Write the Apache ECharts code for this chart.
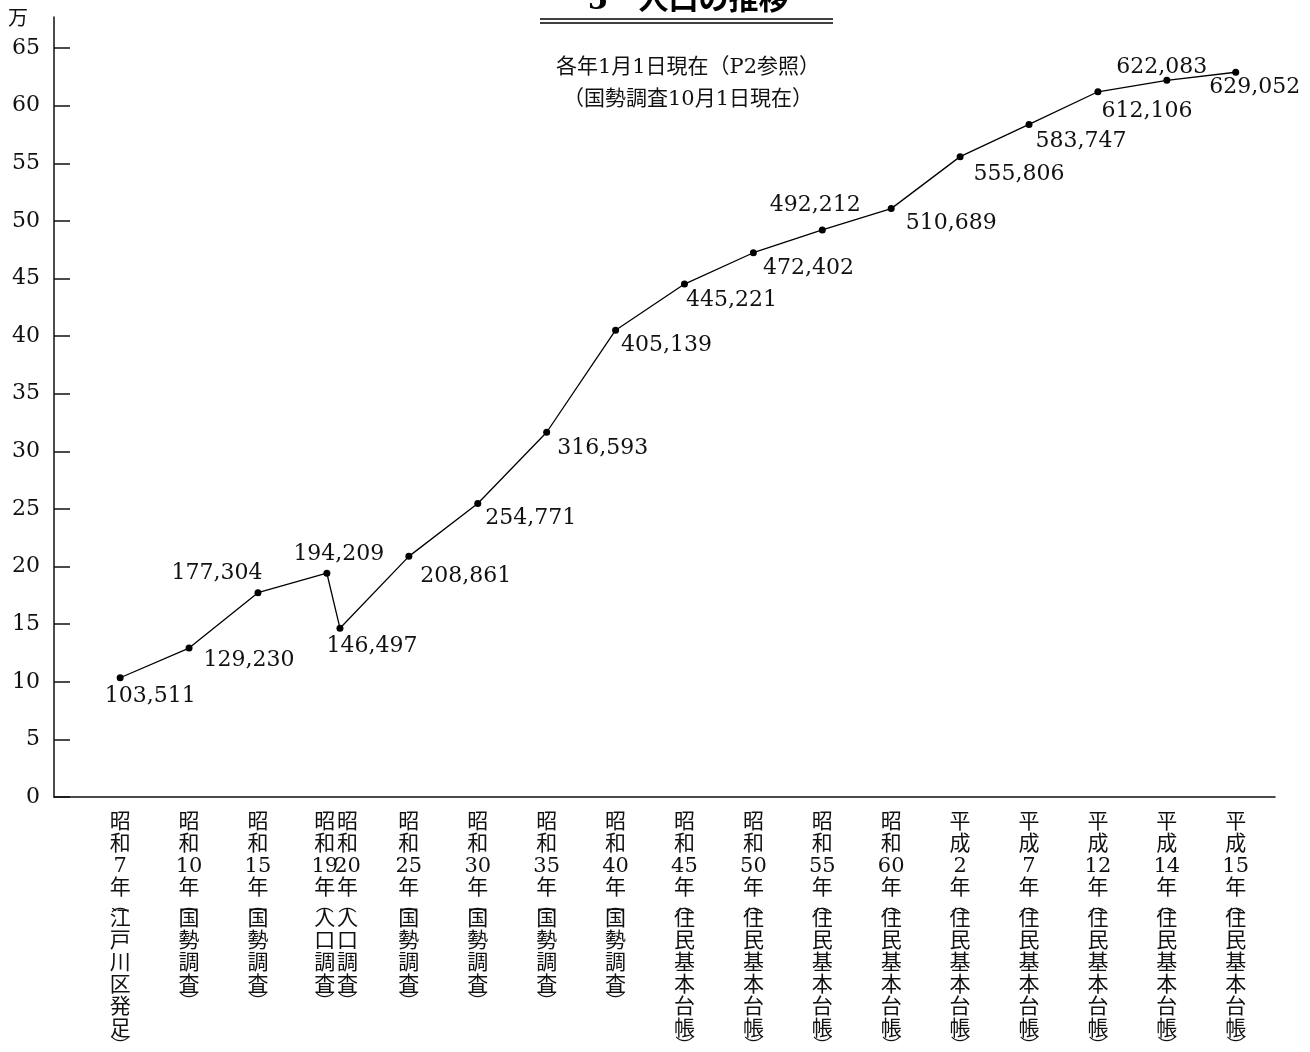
<!DOCTYPE html>
<html><head><meta charset="utf-8">
<script src="https://cdn.jsdelivr.net/npm/echarts@6/dist/echarts.min.js"></script>
<style>html,body{margin:0;padding:0;background:#fff}#c{width:1310px;height:1052px}</style>
</head><body><div id="c"></div>
<script>
// ---- data ----
const categories = [
  '昭和7年（江戸川区発足）', '昭和10年（国勢調査）', '昭和15年（国勢調査）', '昭和19年（人口調査）',
  '昭和20年（人口調査）', '昭和25年（国勢調査）', '昭和30年（国勢調査）', '昭和35年（国勢調査）',
  '昭和40年（国勢調査）', '昭和45年（住民基本台帳）', '昭和50年（住民基本台帳）', '昭和55年（住民基本台帳）',
  '昭和60年（住民基本台帳）', '平成2年（住民基本台帳）', '平成7年（住民基本台帳）', '平成12年（住民基本台帳）',
  '平成14年（住民基本台帳）', '平成15年（住民基本台帳）'
];
const population = [103511, 129230, 177304, 194209, 146497, 208861, 254771, 316593, 405139,
  445221, 472402, 492212, 510689, 555806, 583747, 612106, 622083, 629052];
// ordinal slot of each survey on the x axis (S19 and S20 share a slot)
const xSlots = [0, 1, 2, 3, 3.19, 4.19, 5.19, 6.19, 7.19, 8.19, 9.19, 10.19, 11.19, 12.19, 13.19, 14.19, 15.19, 16.19];
const yTicks = [0, 5, 10, 15, 20, 25, 30, 35, 40, 45, 50, 55, 60, 65];
const unitName = '万';
const titleText = '5　人口の推移';
const noteText = '各年1月1日現在（P2参照）\n（国勢調査10月1日現在）';

// ---- layout / style helpers ----
const labelOffsets = [[30,19],[60,12],[-41,-19],[12,-19],[32,18],[57,20],[53,15],[56,16],[51,15],
  [47,16],[55,16],[-7,-25],[60,15],[59,18],[52,17],[49,20],[-5,-13],[19,15]];
const labelNudge = {3: -0.03, 4: 0.11};
const labelSlots = xSlots.map((x, i) => x + (labelNudge[i] || 0));
const NUM = '"DejaVu Serif", "Noto Sans CJK JP", serif';

function verticalLabel(cat) {
  const m = cat.match(/^(\D+?)(\d+)(年)（(.+)）$/);
  const lines = [];
  for (const ch of m[1]) lines.push(ch);
  lines.push(m[2]);
  lines.push(m[3]);
  lines.push('{p|︵}');
  for (const ch of m[4]) lines.push(ch);
  lines.push('{p|︶}');
  return lines.join('\n');
}

const chart = echarts.init(document.getElementById('c'), null, {renderer: 'canvas'});
const option = {
  animation: false,
  backgroundColor: '#fff',
  grid: {left: 54, right: 35, top: 17, bottom: 255, outerBoundsMode: 'none', containLabel: false},
  xAxis: {
    type: 'value', min: -0.96, max: 16.76,
    axisLine: {onZero: false, lineStyle: {color: '#111', width: 1.5}},
    axisTick: {show: false},
    splitLine: {show: false},
    axisLabel: {
      customValues: labelSlots,
      margin: 15,
      color: '#111',
      fontSize: 21, lineHeight: 22,
      fontFamily: NUM,
      verticalAlign: 'top',
      formatter: function (v) {
        let best = 0, d = 1e9;
        labelSlots.forEach((s, i) => { if (Math.abs(s - v) < d) { d = Math.abs(s - v); best = i; } });
        return verticalLabel(categories[best]);
      },
      rich: {p: {fontSize: 18, lineHeight: 9, fontFamily: '"Noto Sans CJK JP"', color: '#111'}}
    }
  },
  yAxis: {
    type: 'value', min: 0, max: 67.7,
    name: unitName,
    nameLocation: 'end', nameGap: 0,
    nameTextStyle: {color: '#111', fontSize: 20, fontFamily: '"Noto Sans CJK JP"', align: 'right', verticalAlign: 'middle', padding: [0, 26, 0, 0]},
    axisLine: {show: true, onZero: false, lineStyle: {color: '#111', width: 1.5}},
    axisTick: {show: true, inside: true, length: 16, customValues: yTicks, lineStyle: {color: '#111', width: 1.5}},
    splitLine: {show: false},
    axisLabel: {customValues: yTicks, margin: 14, color: '#111', fontSize: 22, fontFamily: NUM}
  },
  series: [{
    type: 'line',
    data: xSlots.map((x, i) => ({
      value: [x, population[i] / 10000],
      label: {offset: labelOffsets[i]}
    })),
    symbol: 'circle', symbolSize: 7,
    itemStyle: {color: '#000'},
    lineStyle: {color: '#000', width: 1.3},
    label: {
      show: true, position: 'inside', align: 'center', verticalAlign: 'middle',
      color: '#111', fontSize: 22, fontFamily: NUM,
      formatter: p => population[p.dataIndex].toLocaleString('en-US')
    }
  }],
  graphic: [
    {type: 'text', x: 688, y: 16, style: {text: titleText, textAlign: 'center', textVerticalAlign: 'bottom', fill: '#000', font: 'bold 30px "DejaVu Serif", "Noto Sans CJK JP"'}},
    {type: 'line', shape: {x1: 540, y1: 19, x2: 833, y2: 19}, style: {stroke: '#000', lineWidth: 1.5}},
    {type: 'line', shape: {x1: 540, y1: 23, x2: 833, y2: 23}, style: {stroke: '#000', lineWidth: 1.5}},
    {type: 'text', x: 688, y: 52, style: {text: noteText, textAlign: 'center', textVerticalAlign: 'top', fill: '#111', font: '21px "DejaVu Serif", "Noto Sans CJK JP"', lineHeight: 32}}
  ]
};
chart.setOption(option);
</script>
</body></html>
